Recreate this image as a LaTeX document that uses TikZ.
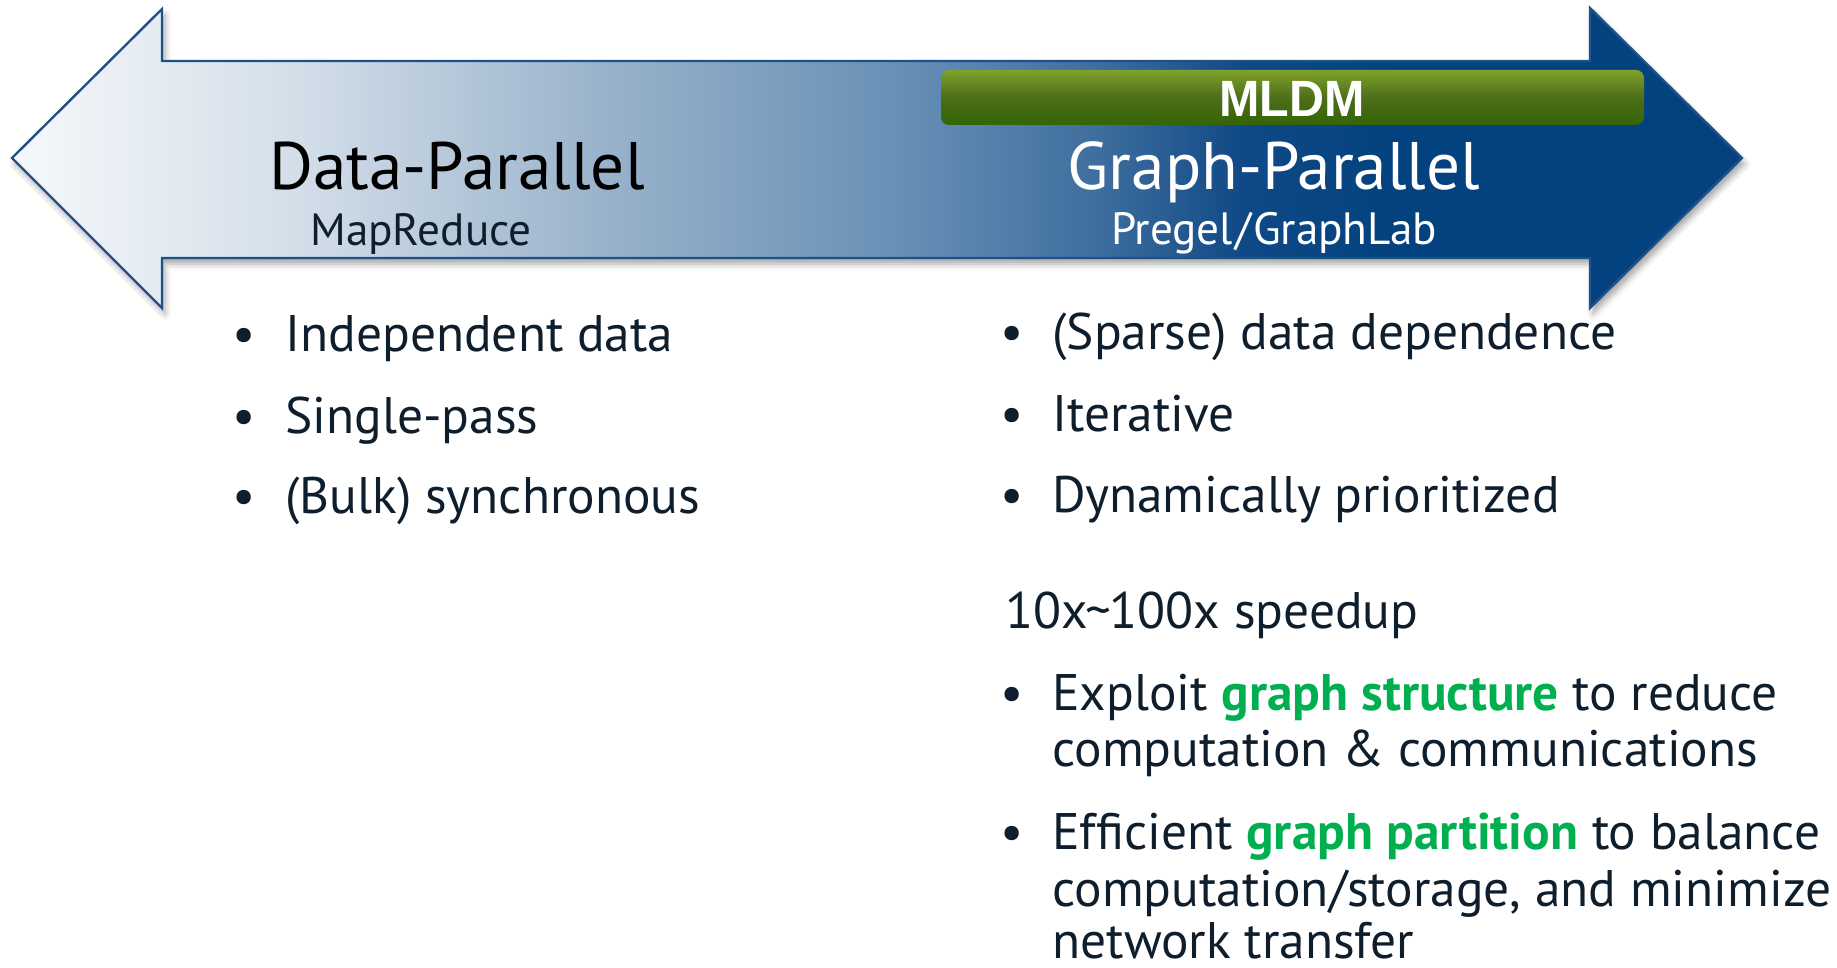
\documentclass[tikz,border=0pt]{standalone}
\usepackage{fontspec}
\setmainfont{PT Sans}
\newfontfamily\bodyfont{PT Sans}
\newfontfamily\tagfont{Liberation Sans}[FakeStretch=0.95]
\usetikzlibrary{shadows.blur}

\definecolor{ink}{HTML}{0E1E2C}
\definecolor{hilite}{HTML}{00B050}
\definecolor{rim}{HTML}{1F5189}
\definecolor{sA}{HTML}{F6F8FB}
\definecolor{sB}{HTML}{D3DEE9}
\definecolor{sC}{HTML}{9AB3CB}
\definecolor{sD}{HTML}{6890B6}
\definecolor{sE}{HTML}{3E6E9E}
\definecolor{sF}{HTML}{0F4886}
\definecolor{sG}{HTML}{03427E}
\definecolor{tagtop}{HTML}{7EA22A}
\definecolor{tagmid}{HTML}{4E6E1A}
\definecolor{tagbot}{HTML}{336405}

% light-to-dark blue ramp along the double arrow
\pgfdeclarehorizontalshading{spanshade}{100bp}{%
  color(0bp)=(sA); color(25bp)=(sA); color(33.3bp)=(sB); color(42bp)=(sC);
  color(50.6bp)=(sD); color(56.4bp)=(sE); color(60.7bp)=(sF);
  color(65.1bp)=(sG); color(100bp)=(sG)}

\tikzset{
  body/.style={font=\bodyfont\fontsize{25.7}{30}\selectfont, text=ink, inner sep=0pt},
  line/.style={body, anchor=base west},
  dot/.style={body, anchor=base},
  headline/.style={font=\fontsize{33.6}{40}\selectfont, inner sep=0pt, anchor=base},
  subline/.style={font=\fontsize{22.6}{28}\selectfont, inner sep=0pt, anchor=base}
}
\newcommand{\gr}[1]{\textcolor{hilite}{\bfseries #1}}

\begin{document}
\begin{tikzpicture}[x=0.5pt,y=-0.5pt]
\useasboundingbox (0,0) rectangle (1837,968);

% double-headed arrow
\path[shading=spanshade, draw=rim, line width=1.2pt, line join=miter,
      blur shadow={shadow xshift=1.5pt, shadow yshift=-3pt, shadow blur radius=3pt, shadow opacity=35}]
  (12,158) -- (162,9) -- (162,61) -- (1590,61) -- (1590,8) -- (1742,158)
  -- (1590,308) -- (1590,258) -- (162,258) -- (162,308) -- cycle;

% green tag bar
\path[top color=tagtop, bottom color=tagbot, middle color=tagmid, rounded corners=4pt]
  (941,70) rectangle (1644,125);
\node[inner sep=0pt, anchor=base, text=white, font=\tagfont\bfseries\fontsize{25.5}{30}\selectfont] (mldm) at (1292,117) {MLDM};

% arrow captions
\node[headline, text=black] (dp) at (457,190) {Data-Parallel};
\node[subline, text=ink] (mr) at (421,246) {MapReduce};
\node[headline, text=white] (gp) at (1274,190) {Graph-Parallel};
\node[subline, text=white] (pg) at (1274,245) {Pregel\kern1pt/\kern1pt GraphLab};

% left list
\node[dot] (lb1) at (244,351) {•};
\node[line] (l1) at (285,351) {Independent data};
\node[dot] (lb2) at (244,433) {•};
\node[line] (l2) at (285,433) {Single-pass};
\node[dot] (lb3) at (244,513) {•};
\node[line] (l3) at (285,513) {(Bulk) synchronous};

% right list
\node[dot] (rb1) at (1012,350) {•};
\node[line] (r1) at (1052,350) {(Sparse) data dependence};
\node[dot] (rb2) at (1012,431) {•};
\node[line] (r2) at (1052,431) {Iterative};
\node[dot] (rb3) at (1012,512) {•};
\node[line] (r3) at (1052,512) {Dynamically prioritized};

\node[line] (speed) at (1005,628) {10x\kern-1pt\textasciitilde\kern-1pt 100x speedup};

\node[dot] (rb4) at (1012,710) {•};
\node[line] (r4a) at (1052,710) {Exploit \gr{graph structure} to reduce};
\node[line] (r4b) at (1052,766) {computation \& communications};
\node[dot] (rb5) at (1012,849) {•};
\node[line] (r5a) at (1052,849) {Efficient \gr{graph partition} to balance};
\node[line] (r5b) at (1052,906) {computation/storage, and minimize};
\node[line, text depth=0pt] (r5c) at (1052,958) {network transfer};
\end{tikzpicture}
\end{document}
